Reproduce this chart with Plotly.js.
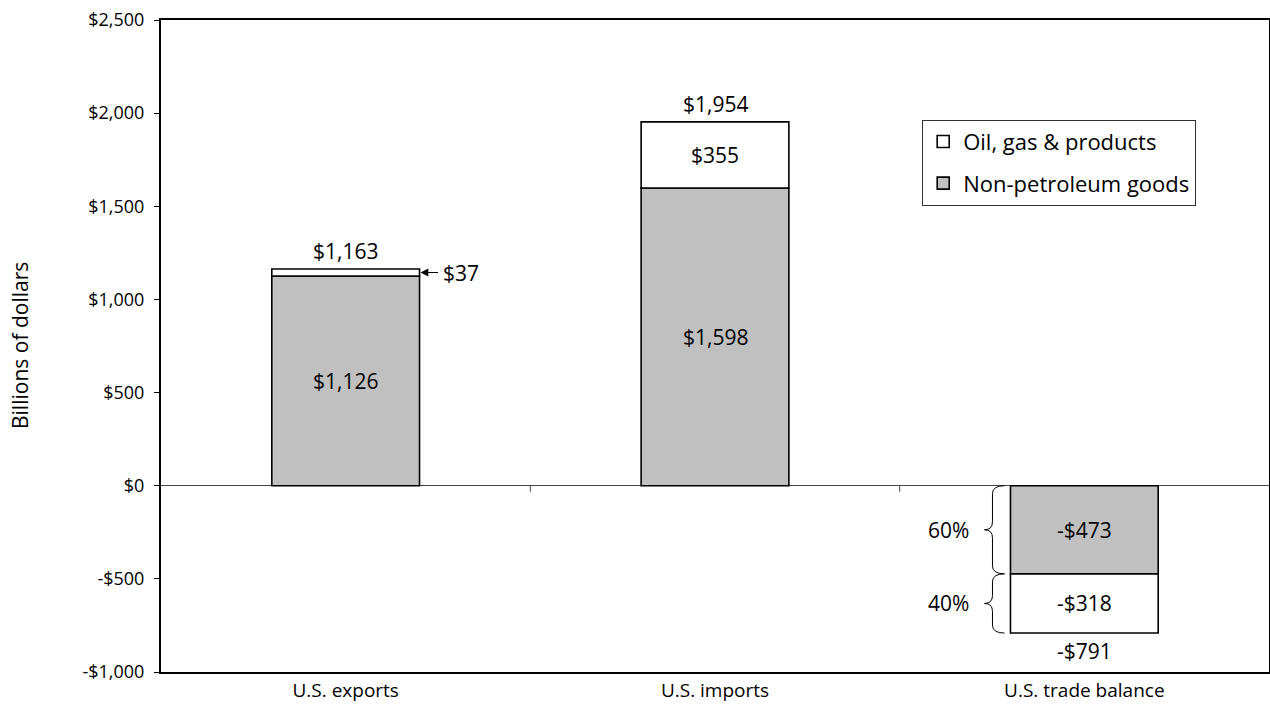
<!DOCTYPE html>
<html>
<head>
<meta charset="utf-8">
<script src="https://cdn.plot.ly/plotly-3.0.1.min.js"></script>
<style>html,body{margin:0;padding:0;background:#fff;}#chart{width:1270px;height:719px;}</style>
</head>
<body>
<div id="chart"></div>
<script>
// ---- data ----
const categories = ["U.S. exports", "U.S. imports", "U.S. trade balance"];
const nonPetroleum = [1126, 1598, -473];
const oilGas = [37, 355, -318];
const totals = [1163, 1954, -791];
const yTickVals = [-1000, -500, 0, 500, 1000, 1500, 2000, 2500];
const yTickText = ["-$1,000", "-$500", "$0", "$500", "$1,000", "$1,500", "$2,000", "$2,500"];

const FONT = "Open Sans, Noto Sans, sans-serif";
function fmt(v) {
  const s = "$" + Math.abs(v).toLocaleString("en-US");
  return v < 0 ? "-" + s : s;
}

const barWidth = 0.4;
const traces = [
  {type: "bar", name: "Non-petroleum goods", legendgroup: "a", legendrank: 2, x: categories, y: nonPetroleum, width: barWidth,
   marker: {color: "#C0C0C0", line: {color: "#000", width: 1.6}}, hoverinfo: "skip"},
  {type: "bar", name: "Oil, gas & products", legendgroup: "b", legendrank: 1, x: categories, y: oilGas, width: barWidth,
   marker: {color: "#FFFFFF", line: {color: "#000", width: 1.6}}, hoverinfo: "skip"}
];

const annotations = [];
const valFont = {family: FONT, size: 21, color: "#000"};
categories.forEach((c, i) => {
  annotations.push({x: i, y: nonPetroleum[i] / 2, text: fmt(nonPetroleum[i]), showarrow: false, font: valFont});
  if (Math.abs(oilGas[i]) > 100) {
    annotations.push({x: i, y: nonPetroleum[i] + oilGas[i] / 2, text: fmt(oilGas[i]), showarrow: false, font: valFont});
  } else {
    const yMid = nonPetroleum[i] + oilGas[i] / 2;
    annotations.push({x: i + barWidth / 2, y: yMid, ax: 20, ay: 0, text: "", showarrow: true,
      arrowhead: 2, arrowsize: 1.3, arrowwidth: 1.2, arrowcolor: "#000", standoff: 1});
    annotations.push({x: i + barWidth / 2, y: yMid, xshift: 21, xanchor: "left", text: fmt(oilGas[i]),
      showarrow: false, font: valFont});
  }
  const top = totals[i] >= 0;
  annotations.push({x: i, y: nonPetroleum[i] + oilGas[i], text: fmt(totals[i]), showarrow: false,
    yanchor: top ? "bottom" : "top", yshift: top ? 2 : -2, font: valFont});
});

// braces and percentages for trade balance
const bi = 2;
const pxPerUnitX = 1108 / 3;
const pxPerUnitY = 652 / 3500;
const leftEdge = bi - barWidth / 2;
const tipX = leftEdge - 6 / pxPerUnitX;
const spineX = leftEdge - 18 / pxPerUnitX;
const pointX = leftEdge - 26 / pxPerUnitX;
const d = 8 / pxPerUnitY;
function bracePath(y0, y1) {
  const m = (y0 + y1) / 2;
  return `M ${tipX},${y0} Q ${spineX},${y0} ${spineX},${y0 - d} L ${spineX},${m + d} Q ${spineX},${m} ${pointX},${m} ` +
         `Q ${spineX},${m} ${spineX},${m - d} L ${spineX},${y1 + d} Q ${spineX},${y1} ${tipX},${y1}`;
}
const segs = [[0, nonPetroleum[bi]], [nonPetroleum[bi], nonPetroleum[bi] + oilGas[bi]]];
const shares = [nonPetroleum[bi] / totals[bi], oilGas[bi] / totals[bi]];
const shapes = [];
segs.forEach((s, k) => {
  shapes.push({type: "path", xref: "x", yref: "y", path: bracePath(s[0], s[1]), line: {color: "#000", width: 1}});
  annotations.push({x: leftEdge, y: (s[0] + s[1]) / 2, xanchor: "right", xshift: -39, showarrow: false,
    text: Math.round(shares[k] * 100) + "%", font: valFont});
});
// tick marks on the zero line at category boundaries
[0.5, 1.5].forEach(b => {
  shapes.push({type: "line", xref: "x", yref: "y", ysizemode: "pixel", yanchor: 0, x0: b, x1: b, y0: 0, y1: -6,
    line: {color: "#444", width: 1}});
});
// y-axis title
annotations.push({xref: "paper", yref: "paper", x: -157 / 1108, y: 0.5, textangle: -90, showarrow: false,
  text: "Billions of dollars", font: {family: FONT, size: 21, color: "#000"}});

const layout = {
  width: 1270, height: 719,
  margin: {l: 161, r: 1, t: 20, b: 47, pad: 0},
  paper_bgcolor: "#fff", plot_bgcolor: "#fff",
  barmode: "relative",
  showlegend: true,
  legend: {x: 0.687, y: 0.847, xanchor: "left", yanchor: "top", traceorder: "grouped",
    tracegroupgap: 10, itemwidth: 30,
    bordercolor: "#333", borderwidth: 1, bgcolor: "#fff",
    font: {family: FONT, size: 22, color: "#000"}},
  font: {family: FONT, color: "#000"},
  xaxis: {type: "category", range: [-0.5, 2.5], showline: true, linecolor: "#000", linewidth: 2, mirror: true,
    ticks: "", showgrid: false, zeroline: false, tickfont: {family: FONT, size: 19, color: "#000"}},
  yaxis: {range: [-1000, 2500], tickvals: yTickVals, ticktext: yTickText, ticks: "outside", ticklen: 5,
    ticklabelstandoff: 6,
    tickcolor: "#000", showline: true, linecolor: "#000", linewidth: 2, mirror: true, showgrid: false,
    zeroline: true, zerolinecolor: "#444", zerolinewidth: 1,
    tickfont: {family: FONT, size: 18, color: "#000"}},
  shapes: shapes,
  annotations: annotations
};

Plotly.newPlot("chart", traces, layout, {staticPlot: true, displayModeBar: false});
</script>
</body>
</html>
